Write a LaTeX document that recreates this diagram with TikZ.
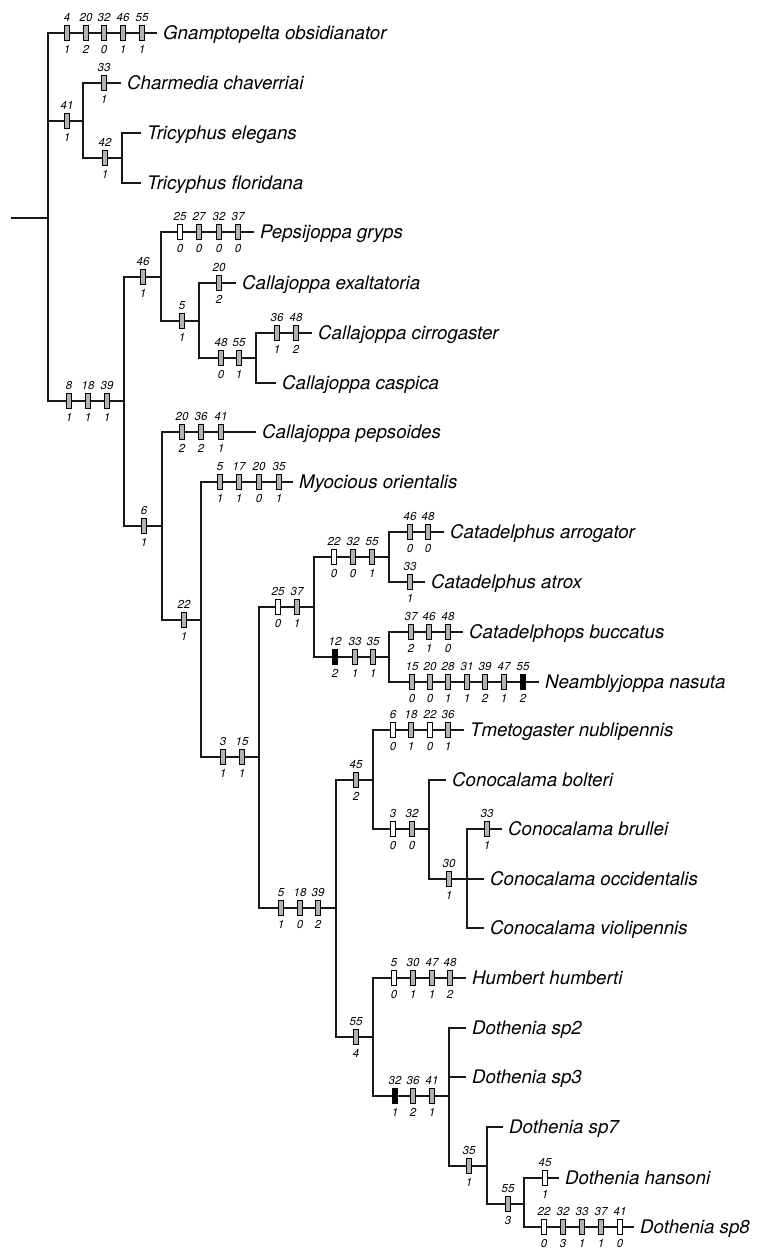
\documentclass[tikz,border=0pt]{standalone}
\usepackage{fontspec}
\newfontfamily\hvfont{TeX Gyre Heros}
\usepackage{tikz}
\usetikzlibrary{positioning}
\tikzstyle{taxon}=[anchor=west, inner xsep=6pt, inner ysep=0pt, text height=13pt, text depth=0pt, font=\hvfont\itshape\fontsize{18.7}{20}\selectfont]
\tikzstyle{numa}=[inner sep=0pt, label distance=3pt, font=\hvfont\itshape\fontsize{11.5}{12}\selectfont]
\tikzstyle{numb}=[numa, label distance=4.5pt]
\tikzstyle{gr}=[draw, line width=0.8pt, fill=black!30, minimum width=5.5pt, minimum height=15pt, inner sep=0pt]
\tikzstyle{wt}=[gr, fill=white]
\tikzstyle{bk}=[gr, fill=black]
\tikzstyle{br}=[line width=1.9pt, black!90]
% one row of character changes on a branch: prefix, y, list
\newcommand{\apo}[3]{%
\foreach \s/\x/\a/\b in {#3}{
\node[\s, label={[numa]90:\a}, label={[numb]270:\b}] (#1\a) at (\x,#2) {};
}}

\begin{document}
\begin{tikzpicture}[x=1pt, y=-1pt]
\useasboundingbox (0,0) rectangle (757,1248);

% inner nodes
\coordinate (base) at (11,218);
\coordinate (root) at (48,218);
\coordinate (n41) at (83,121);
\coordinate (n42) at (122,158);
\coordinate (n8) at (124,401);
\coordinate (n46) at (161,277);
\coordinate (n5) at (199,321);
\coordinate (n48) at (256,358);
\coordinate (n6) at (162,526);
\coordinate (n22) at (201,620);
\coordinate (n3) at (259,757);
\coordinate (n25) at (314,607);
\coordinate (n22b) at (389,557);
\coordinate (n12) at (389,657);
\coordinate (n5b) at (336,908);
\coordinate (n45) at (373,780);
\coordinate (n3b) at (429,829);
\coordinate (n30) at (467,879);
\coordinate (n55) at (373,1037);
\coordinate (n32) at (449,1096);
\coordinate (n35) at (487,1166);
\coordinate (n55b) at (524,1204);

% taxa
\node[taxon] (gnam) at (157,33) {Gnamptopelta obsidianator};
\node[taxon] (charm) at (121,83) {Charmedia chaverriai};
\node[taxon] (tele) at (141,133) {Tricyphus elegans};
\node[taxon] (tflo) at (141,183) {Tricyphus floridana};
\node[taxon] (peps) at (254,232) {Pepsijoppa gryps};
\node[taxon] (cexa) at (236,283) {Callajoppa exaltatoria};
\node[taxon] (ccir) at (312,333) {Callajoppa cirrogaster};
\node[taxon] (ccas) at (276,383) {Callajoppa caspica};
\node[taxon] (cpep) at (256,432) {Callajoppa pepsoides};
\node[taxon] (myoc) at (293,482) {Myocious orientalis};
\node[taxon] (carr) at (444,532) {Catadelphus arrogator};
\node[taxon] (catr) at (425,582) {Catadelphus atrox};
\node[taxon] (cbuc) at (463,632) {Catadelphops buccatus};
\node[taxon] (neam) at (539,682) {Neamblyjoppa nasuta};
\node[taxon] (tmet) at (464,730) {Tmetogaster nublipennis};
\node[taxon] (cbol) at (446,780) {Conocalama bolteri};
\node[taxon] (cbru) at (502,829) {Conocalama brullei};
\node[taxon] (cocc) at (484,879) {Conocalama occidentalis};
\node[taxon] (cvio) at (484,928) {Conocalama violipennis};
\node[taxon] (humb) at (466,978) {Humbert humberti};
\node[taxon] (dsp2) at (466,1028) {Dothenia sp2};
\node[taxon] (dsp3) at (466,1077) {Dothenia sp3};
\node[taxon] (dsp7) at (503,1127) {Dothenia sp7};
\node[taxon] (dhan) at (559,1178) {Dothenia hansoni};
\node[taxon] (dsp8) at (634,1227) {Dothenia sp8};

% branches
\draw[br] (base) -- (root);
\draw[br] (root) |- (gnam.west);
\draw[br] (root) |- (n41);
\draw[br] (root) |- (n8);
\draw[br] (n41) |- (charm.west);
\draw[br] (n41) |- (n42);
\draw[br] (n42) |- (tele.west);
\draw[br] (n42) |- (tflo.west);
\draw[br] (n8) |- (n46);
\draw[br] (n8) |- (n6);
\draw[br] (n46) |- (peps.west);
\draw[br] (n46) |- (n5);
\draw[br] (n5) |- (cexa.west);
\draw[br] (n5) |- (n48);
\draw[br] (n48) |- (ccir.west);
\draw[br] (n48) |- (ccas.west);
\draw[br] (n6) |- (cpep.west);
\draw[br] (n6) |- (n22);
\draw[br] (n22) |- (myoc.west);
\draw[br] (n22) |- (n3);
\draw[br] (n3) |- (n25);
\draw[br] (n3) |- (n5b);
\draw[br] (n25) |- (n22b);
\draw[br] (n25) |- (n12);
\draw[br] (n22b) |- (carr.west);
\draw[br] (n22b) |- (catr.west);
\draw[br] (n12) |- (cbuc.west);
\draw[br] (n12) |- (neam.west);
\draw[br] (n5b) |- (n45);
\draw[br] (n5b) |- (n55);
\draw[br] (n45) |- (tmet.west);
\draw[br] (n45) |- (n3b);
\draw[br] (n3b) |- (cbol.west);
\draw[br] (n3b) |- (n30);
\draw[br] (n30) |- (cbru.west);
\draw[br] (n30) |- (cocc.west);
\draw[br] (n30) |- (cvio.west);
\draw[br] (n55) |- (humb.west);
\draw[br] (n55) |- (n32);
\draw[br] (n32) |- (dsp2.west);
\draw[br] (n32) |- (dsp3.west);
\draw[br] (n32) |- (n35);
\draw[br] (n35) |- (dsp7.west);
\draw[br] (n35) |- (n55b);
\draw[br] (n55b) |- (dhan.west);
\draw[br] (n55b) |- (dsp8.west);

% character changes
\apo{gn}{33}{gr/67/4/1, gr/86/20/2, gr/104/32/0, gr/123/46/1, gr/142/55/1}
\apo{na}{121}{gr/67/41/1}
\apo{cc}{83}{gr/104/33/1}
\apo{tr}{158}{gr/105/42/1}
\apo{nb}{401}{gr/69/8/1, gr/88/18/1, gr/107/39/1}
\apo{nc}{277}{gr/143/46/1}
\apo{pg}{232}{wt/180/25/0, gr/199/27/0, gr/219/32/0, gr/238/37/0}
\apo{nd}{321}{gr/182/5/1}
\apo{ex}{283}{gr/219/20/2}
\apo{ne}{358}{gr/221/48/0, gr/239/55/1}
\apo{ci}{333}{gr/277/36/1, gr/296/48/2}
\apo{nf}{526}{gr/144/6/1}
\apo{pe}{432}{gr/182/20/2, gr/201/36/2, gr/221/41/1}
\apo{ng}{620}{gr/184/22/1}
\apo{my}{482}{gr/220/5/1, gr/239/17/1, gr/259/20/0, gr/279/35/1}
\apo{nh}{757}{gr/223/3/1, gr/242/15/1}
\apo{ni}{607}{wt/278/25/0, gr/297/37/1}
\apo{nj}{557}{wt/334/22/0, gr/353/32/0, gr/372/55/1}
\apo{ar}{532}{gr/410/46/0, gr/428/48/0}
\apo{at}{582}{gr/410/33/1}
\apo{nk}{657}{bk/335/12/2, gr/355/33/1, gr/373/35/1}
\apo{bu}{632}{gr/411/37/2, gr/429/46/1, gr/448/48/0}
\apo{nn}{682}{gr/412/15/0, gr/430/20/0, gr/448/28/1, gr/467/31/1, gr/485/39/2, gr/504/47/1, bk/523/55/2}
\apo{nl}{908}{gr/281/5/1, gr/300/18/0, gr/318/39/2}
\apo{nm}{780}{gr/356/45/2}
\apo{tm}{730}{wt/393/6/0, gr/411/18/1, wt/430/22/0, gr/448/36/1}
\apo{no}{829}{wt/393/3/0, gr/412/32/0}
\apo{np}{879}{gr/449/30/1}
\apo{bl}{829}{gr/487/33/1}
\apo{nq}{1037}{gr/356/55/4}
\apo{hu}{978}{wt/394/5/0, gr/413/30/1, gr/432/47/1, gr/450/48/2}
\apo{nr}{1096}{bk/395/32/1, gr/413/36/2, gr/432/41/1}
\apo{ns}{1166}{gr/469/35/1}
\apo{nt}{1204}{gr/508/55/3}
\apo{ha}{1178}{wt/545/45/1}
\apo{sp}{1227}{wt/544/22/0, gr/563/32/3, gr/582/33/1, gr/601/37/1, wt/620/41/0}
\end{tikzpicture}
\end{document}
